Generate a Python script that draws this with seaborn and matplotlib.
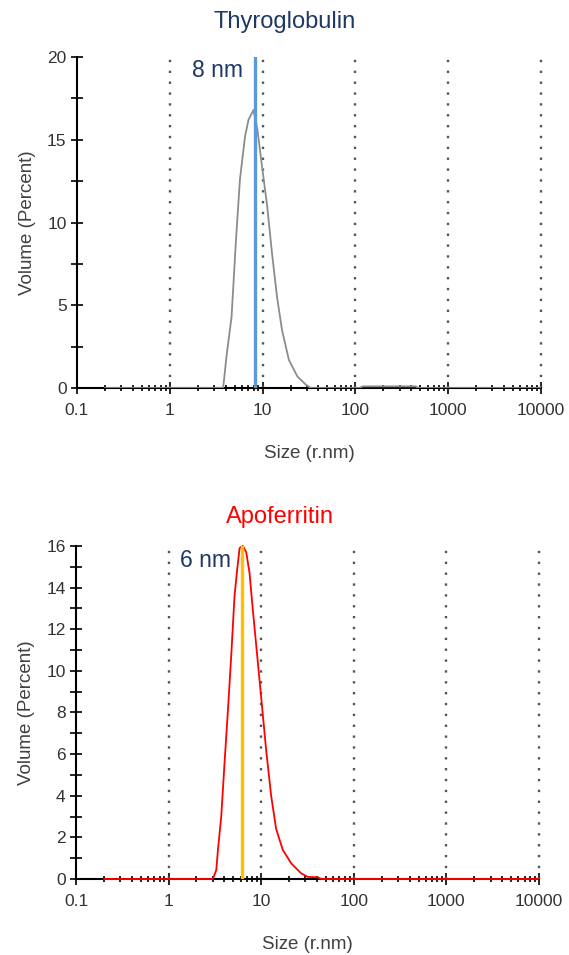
import matplotlib
matplotlib.use("Agg")
import matplotlib.pyplot as plt
from matplotlib.ticker import FixedLocator, LogLocator, MultipleLocator, NullFormatter
import seaborn as sns

sns.set_style("white")
plt.rcParams['font.family'] = ['Liberation Sans', 'DejaVu Sans']

# ---------------- data ----------------
xtick_vals = [0.1, 1, 10, 100, 1000, 10000]
xtick_labels = ["0.1", "1", "10", "100", "1000", "10000"]

# Thyroglobulin (volume distribution)
size_thyro = [0.2, 3.76, 4.08, 4.63, 5.16, 5.7, 6.47, 7.04, 7.98, 8.8, 9.85, 11.2, 12.6,
              14.3, 16.2, 19.2, 23.7, 29.3, 33.0, 110, 120, 450, 470, 10000]
vol_thyro = [0, 0, 1.9, 4.3, 8.9, 12.6, 15.2, 16.2, 16.8, 15.6, 13.4, 11.0, 8.2,
             5.5, 3.5, 1.7, 0.7, 0.2, 0, 0, 0.1, 0.1, 0, 0]
peak_thyro = 8.3
label_thyro = "8 nm"

# Apoferritin (volume distribution)
size_apo = [0.2, 3.01, 3.27, 3.41, 3.7, 4.02, 4.37, 4.74, 5.15, 5.51, 5.84, 6.34, 6.89,
            7.48, 8.13, 9.2, 10.3, 11.3, 12.8, 14.5, 17.1, 21.1, 27.0, 31.9, 40.7, 45, 10000]
vol_apo = [0, 0, 0.43, 1.4, 3.0, 5.6, 8.1, 10.7, 13.6, 14.9, 15.9, 16.0, 15.7,
           14.7, 12.9, 10.4, 8.1, 6.2, 4.0, 2.4, 1.4, 0.75, 0.27, 0.1, 0.08, 0, 0]
peak_apo = 6.17
label_apo = "6 nm"

NAVY = "#1F3864"
TICKC = "#333333"

fig = plt.figure(figsize=(5.69, 9.55), dpi=100)


def style_axes(ax, ymax, ymajor, yminor):
    ax.set_xscale("log")
    ax.set_xlim(0.1, 10000)
    ax.set_ylim(0, ymax)
    for s in ["top", "right"]:
        ax.spines[s].set_visible(False)
    for s in ["left", "bottom"]:
        ax.spines[s].set_color("black")
        ax.spines[s].set_linewidth(1.5)
    ax.xaxis.set_major_locator(FixedLocator(xtick_vals))
    ax.set_xticklabels(xtick_labels)
    ax.xaxis.set_minor_locator(LogLocator(base=10, subs=range(2, 10)))
    ax.xaxis.set_minor_formatter(NullFormatter())
    ax.yaxis.set_major_locator(MultipleLocator(ymajor))
    ax.yaxis.set_minor_locator(MultipleLocator(yminor))
    ax.tick_params(axis="both", which="both", direction="inout", color="black", width=1.2,
                   bottom=True, left=True, top=False, right=False)
    ax.tick_params(axis="x", which="major", length=9, labelsize=12.5, pad=6, labelcolor=TICKC)
    ax.tick_params(axis="x", which="minor", length=5)
    ax.tick_params(axis="y", which="major", length=9, labelsize=12.5, pad=3, labelcolor=TICKC)
    ax.tick_params(axis="y", which="minor", length=8)
    for xv in xtick_vals[1:]:
        ax.axvline(xv, color="#555555", linestyle=(0, (1, 3.6)), linewidth=1.7,
                   dash_capstyle="butt", zorder=1, clip_on=False)
    ax.set_xlabel("Size (r.nm)", fontsize=13.5, color="#404040", labelpad=20)
    ax.set_ylabel("Volume (Percent)", fontsize=13.5, color="#404040", labelpad=8)
    ax.set_facecolor("white")


# ---------- top: Thyroglobulin ----------
ax1 = fig.add_axes([0.1353, 0.5937, 0.8155, 0.3466])
style_axes(ax1, 20, 5, 2.5)
sns.lineplot(x=size_thyro, y=vol_thyro, ax=ax1, color="#8C8C8C", linewidth=1.3,
             zorder=3, estimator=None, sort=False)
ax1.axvline(peak_thyro, color="#5B9BD5", linewidth=2.4, zorder=4)
ax1.text(6.1, 19.2, label_thyro, ha="right", va="center", fontsize=16.5, color=NAVY)
fig.text(0.5, 0.977, "Thyroglobulin", ha="center", va="center", fontsize=17, color=NAVY)

# ---------- bottom: Apoferritin ----------
ax2 = fig.add_axes([0.1336, 0.0796, 0.8137, 0.3487])
style_axes(ax2, 16, 2, 1)
sns.lineplot(x=size_apo, y=vol_apo, ax=ax2, color="#FF0000", linewidth=1.3,
             zorder=3, estimator=None, sort=False, clip_on=False)
ax2.axvline(peak_apo, color="#FFC000", linewidth=2.4, zorder=4)
ax2.text(4.75, 15.3, label_apo, ha="right", va="center", fontsize=16.5, color=NAVY)
fig.text(0.492, 0.459, "Apoferritin", ha="center", va="center", fontsize=17, color="#FF0000")

fig.savefig("out.png", dpi=100, facecolor="white")
